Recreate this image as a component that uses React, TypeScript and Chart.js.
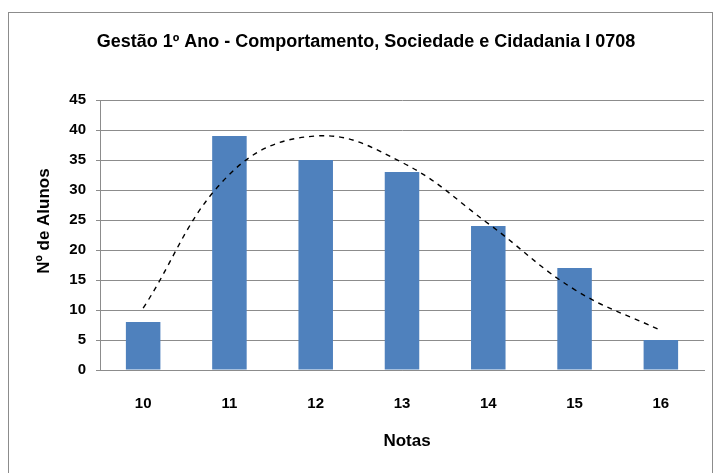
import React, { useEffect, useRef } from "react";
import { Chart, registerables } from "chart.js";

Chart.register(...registerables);

const TITLE = "Gestão 1º Ano - Comportamento, Sociedade e Cidadania I 0708";
const Y_TITLE = "Nº de Alunos";
const X_TITLE = "Notas";

const categories = ["10", "11", "12", "13", "14", "15", "16"];
const alunos = [8, 39, 35, 33, 24, 17, 5];
// polynomial trendline values at each category
const tendencia = [10.3, 32.6, 39.0, 34.6, 24.4, 13.4, 6.6];
const yMin = 0;
const yMax = 45;
const yStep = 5;

const FONT = '"Liberation Sans", Arial, sans-serif';

const decorPlugin = {
  id: "decor",
  beforeDraw(chart: any) {
    const ctx = chart.ctx;
    ctx.save();
    ctx.fillStyle = "#ffffff";
    ctx.fillRect(0, 0, chart.width, chart.height);
    ctx.strokeStyle = "#8c8c8c";
    ctx.lineWidth = 1;
    ctx.strokeRect(8.5, 12.5, 704, 500);
    ctx.restore();
  },
  afterDraw(chart: any) {
    const ctx = chart.ctx;
    ctx.save();
    ctx.fillStyle = "#000000";
    ctx.textAlign = "center";
    ctx.textBaseline = "middle";
    ctx.font = `bold 18px ${FONT}`;
    ctx.fillText(TITLE, 366, 42);
    ctx.font = `bold 17px ${FONT}`;
    ctx.fillText(X_TITLE, 407, 441);
    ctx.translate(44, 221);
    ctx.rotate(-Math.PI / 2);
    ctx.fillText(Y_TITLE, 0, 0);
    ctx.restore();
  },
};

export default function App() {
  const ref = useRef<HTMLCanvasElement | null>(null);
  useEffect(() => {
    if (!ref.current) return;
    const chart = new Chart(ref.current, {
      type: "bar",
      data: {
        labels: categories,
        datasets: [
          {
            type: "line",
            label: "Tendência",
            data: tendencia,
            borderColor: "#000000",
            borderWidth: 1.4,
            borderDash: [5, 5],
            pointRadius: 0,
            tension: 0.4,
            fill: false,
            order: 0,
          } as any,
          {
            type: "bar",
            label: "Nº de Alunos",
            data: alunos,
            backgroundColor: "#4F81BD",
            borderWidth: 0,
            barPercentage: 0.8,
            categoryPercentage: 0.5,
            order: 1,
          } as any,
        ],
      },
      options: {
        animation: false,
        responsive: false,
        maintainAspectRatio: false,
        layout: { padding: { top: 100, right: 16, left: 0, bottom: 0 } },
        plugins: {
          legend: { display: false },
          tooltip: { enabled: false },
          title: { display: false },
        },
        scales: {
          x: {
            grid: { display: false, drawTicks: false },
            border: { display: true, color: "#8c8c8c", width: 1 },
            ticks: {
              color: "#000000",
              font: { family: FONT, size: 15, weight: "bold" },
              padding: 25,
            },
            afterFit(scale: any) {
              scale.height = 103;
            },
          },
          y: {
            min: yMin,
            max: yMax,
            ticks: {
              stepSize: yStep,
              color: "#000000",
              font: { family: FONT, size: 15, weight: "bold" },
              padding: 10,
            },
            grid: {
              color: "#8c8c8c",
              lineWidth: 1,
              tickLength: 4,
              drawTicks: true,
            },
            border: { display: true, color: "#8c8c8c", width: 1 },
            afterFit(scale: any) {
              scale.width = 100;
            },
          },
        },
      },
      plugins: [decorPlugin],
    });
    return () => chart.destroy();
  }, []);
  return (
    <div style={{ position: "fixed", left: 0, top: 0, width: 720, height: 473 }}>
      <canvas ref={ref} width={720} height={473} style={{ width: 720, height: 473 }} />
    </div>
  );
}
